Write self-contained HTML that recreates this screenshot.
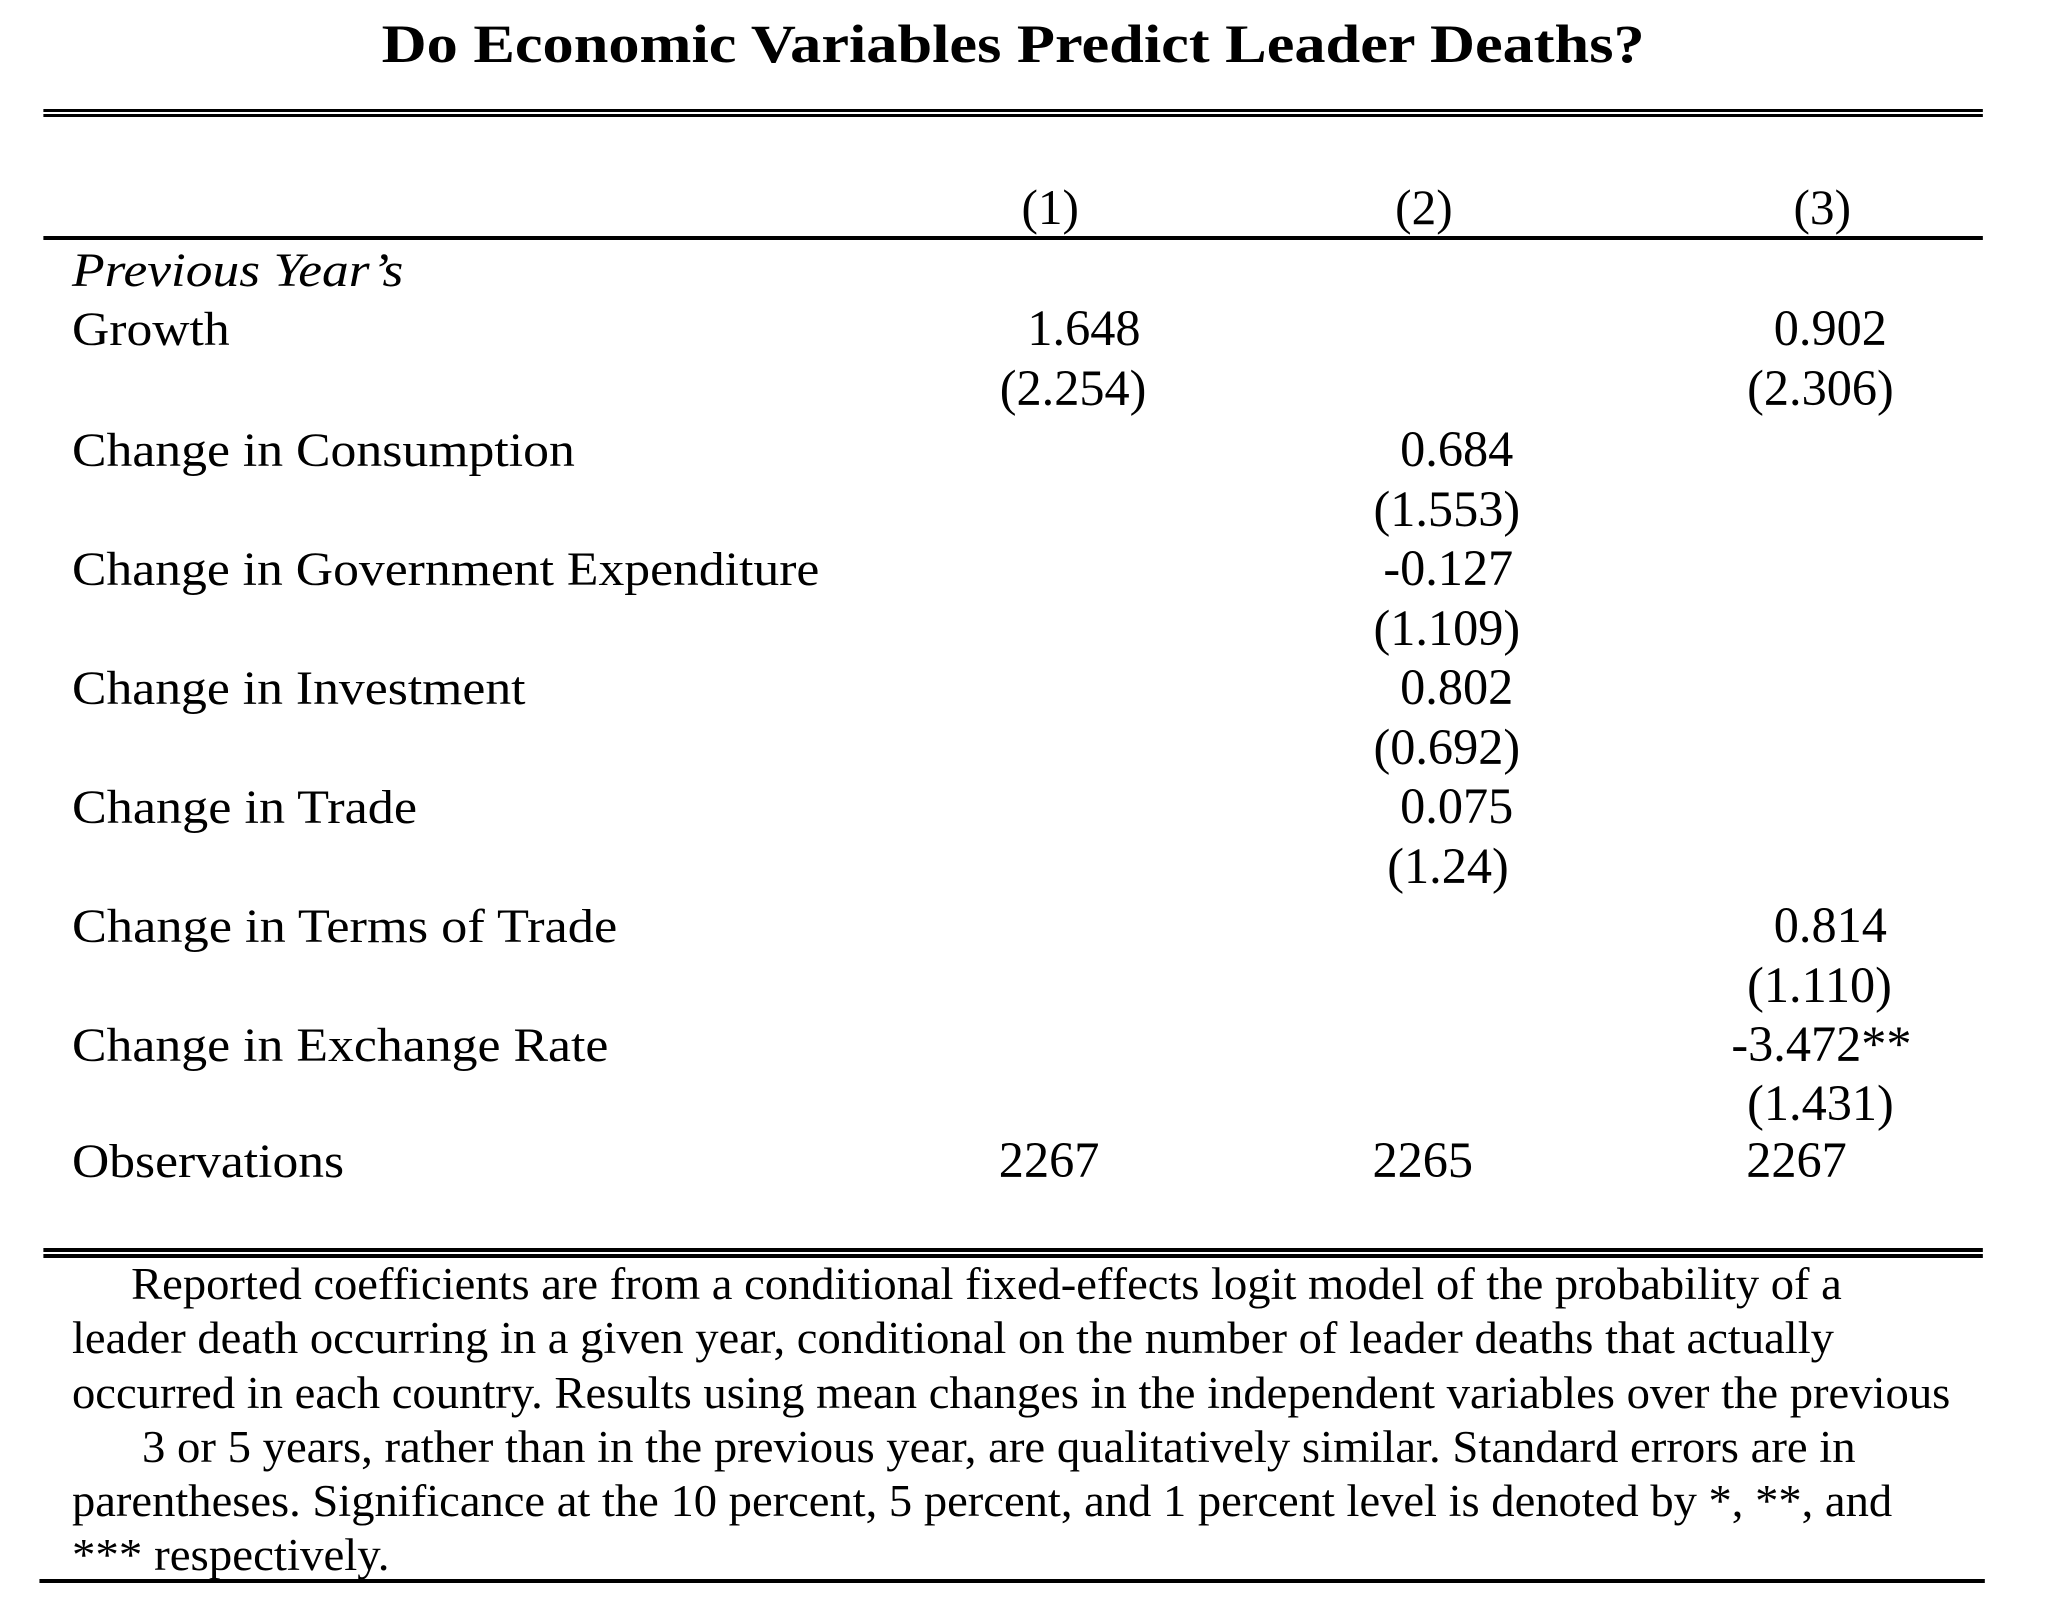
<!DOCTYPE html>
<html><head><meta charset="utf-8"><style>
html,body{margin:0;padding:0;background:#fff;}
svg{display:block;}
text{font-family:"Liberation Serif","Times New Roman",serif;fill:#000;}
</style></head><body>
<svg width="2062" height="1620" viewBox="0 0 2062 1620" xmlns="http://www.w3.org/2000/svg">
<g transform="scale(0.986,1)">
<text x="387" y="62" font-size="54" font-weight="bold" textLength="1281" lengthAdjust="spacingAndGlyphs">Do Economic Variables Predict Leader Deaths?</text>
<rect x="44" y="109" width="1967" height="3"/>
<rect x="44" y="114" width="1967" height="3"/>
<g font-size="50">
<text x="1036" y="224">(1)</text>
<text x="1415" y="224">(2)</text>
<text x="1819" y="224">(3)</text>
</g>
<rect x="44" y="236" width="1967" height="4"/>
<g font-size="48">
<text x="73" y="286" font-style="italic" textLength="336" lengthAdjust="spacingAndGlyphs">Previous Year’s</text>
<text x="73" y="345" textLength="160" lengthAdjust="spacingAndGlyphs">Growth</text>
<text x="73" y="466" textLength="510" lengthAdjust="spacingAndGlyphs">Change in Consumption</text>
<text x="73" y="585" textLength="758" lengthAdjust="spacingAndGlyphs">Change in Government Expenditure</text>
<text x="73" y="704" textLength="460" lengthAdjust="spacingAndGlyphs">Change in Investment</text>
<text x="73" y="823" textLength="350" lengthAdjust="spacingAndGlyphs">Change in Trade</text>
<text x="73" y="942" textLength="553" lengthAdjust="spacingAndGlyphs">Change in Terms of Trade</text>
<text x="73" y="1061" textLength="544" lengthAdjust="spacingAndGlyphs">Change in Exchange Rate</text>
<text x="73" y="1177" textLength="276" lengthAdjust="spacingAndGlyphs">Observations</text>
</g>
<g font-size="51">
<text x="1042" y="345">1.648</text>
<text x="1014" y="405">(2.254)</text>
<text x="1799" y="345">0.902</text>
<text x="1772" y="405">(2.306)</text>

<text x="1420" y="466">0.684</text>
<text x="1393" y="526">(1.553)</text>
<text x="1403" y="585">-0.127</text>
<text x="1393" y="645">(1.109)</text>
<text x="1420" y="704">0.802</text>
<text x="1393" y="764">(0.692)</text>
<text x="1420" y="823">0.075</text>
<text x="1407" y="883">(1.24)</text>

<text x="1799" y="942">0.814</text>
<text x="1772" y="1002">(1.110)</text>
<text x="1756" y="1061">-3.472**</text>
<text x="1772" y="1120">(1.431)</text>

<text x="1013" y="1177">2267</text>
<text x="1392" y="1177">2265</text>
<text x="1771" y="1177">2267</text>
</g>
<rect x="44" y="1248" width="1967" height="4"/>
<rect x="44" y="1254" width="1967" height="4"/>
<g font-size="45">
<text x="133" y="1299" textLength="1735" lengthAdjust="spacingAndGlyphs">Reported coefficients are from a conditional fixed-effects logit model of the probability of a</text>
<text x="73" y="1353" textLength="1787" lengthAdjust="spacingAndGlyphs">leader death occurring in a given year, conditional on the number of leader deaths that actually</text>
<text x="73" y="1408" textLength="1905" lengthAdjust="spacingAndGlyphs">occurred in each country. Results using mean changes in the independent variables over the previous</text>
<text x="144" y="1462" textLength="1738" lengthAdjust="spacingAndGlyphs">3 or 5 years, rather than in the previous year, are qualitatively similar. Standard errors are in</text>
<text x="73" y="1516" textLength="1846" lengthAdjust="spacingAndGlyphs">parentheses. Significance at the 10 percent, 5 percent, and 1 percent level is denoted by *, **, and</text>
<text x="73" y="1570" textLength="322" lengthAdjust="spacingAndGlyphs">*** respectively.</text>
</g>
<rect x="40" y="1579" width="1973" height="4"/>
</g>
</svg>
</body></html>
